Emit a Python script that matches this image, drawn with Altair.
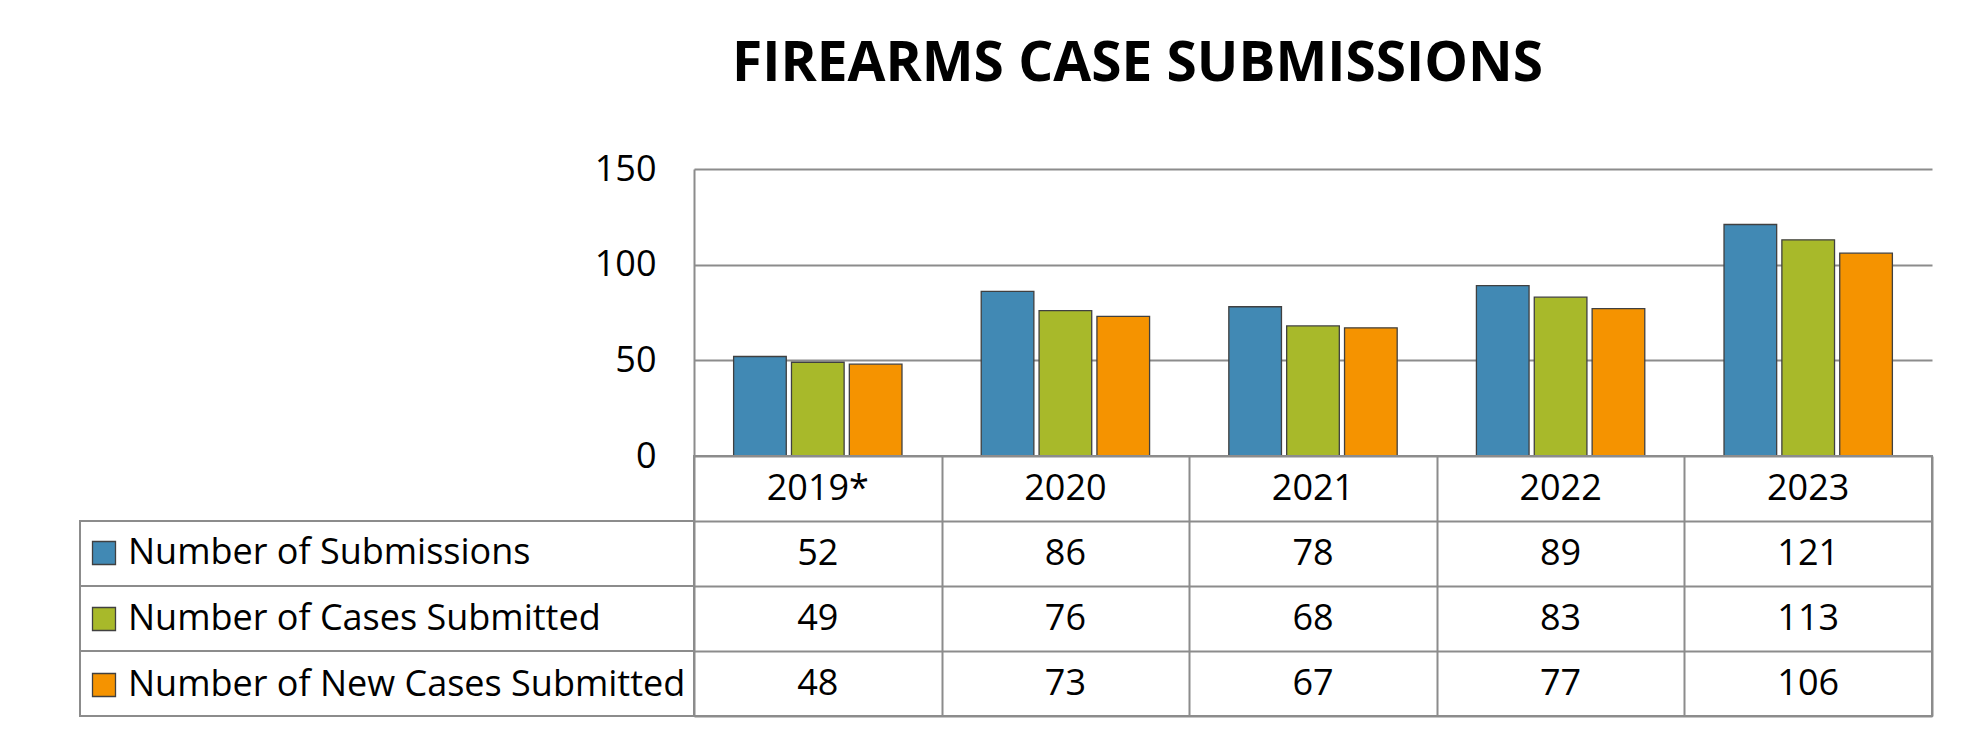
import altair as alt
import pandas as pd

# ---- data ----
years = ["2019*", "2020", "2021", "2022", "2023"]
series = ["Number of Submissions", "Number of Cases Submitted", "Number of New Cases Submitted"]
submissions = [52, 86, 78, 89, 121]
cases_submitted = [49, 76, 68, 83, 113]
new_cases_submitted = [48, 73, 67, 77, 106]
colors = ["#4189B4", "#A8B92A", "#F59300"]

values_by_series = [submissions, cases_submitted, new_cases_submitted]

bars_df = pd.DataFrame(
    [{"year": y, "series": s, "value": v}
     for s, vals in zip(series, values_by_series)
     for y, v in zip(years, vals)]
)

header_key = "Year"
rows = [header_key] + series
table_records = [{"year": y, "row": header_key, "text": y} for y in years]
for s, vals in zip(series, values_by_series):
    for y, v in zip(years, vals):
        table_records.append({"year": y, "row": s, "text": str(v)})
table_df = pd.DataFrame(table_records)
label_cells_df = pd.DataFrame({"row": series})

FONT = "Open Sans"
LINE = "#8C8C8C"
LW = 2
FS = 36

plot_w = 1238
plot_h = 287
table_h = 260
label_col = 614

bars = alt.Chart(bars_df).mark_bar(stroke="#404040", strokeWidth=1.3).encode(
    x=alt.X("year:N", sort=years, axis=None,
            scale=alt.Scale(paddingInner=0.32, paddingOuter=0.16)),
    xOffset=alt.XOffset("series:N", sort=series,
                        scale=alt.Scale(paddingInner=0.09, paddingOuter=0)),
    y=alt.Y("value:Q",
            scale=alt.Scale(domain=[0, 150], nice=False),
            axis=alt.Axis(values=[0, 50, 100, 150], title=None, ticks=False,
                          labelPadding=38, labelFontSize=FS, labelFont=FONT,
                          labelColor="black", grid=True, gridColor=LINE,
                          gridWidth=LW, domainColor=LINE, domainWidth=LW)),
    fill=alt.Fill("series:N", sort=series,
                  scale=alt.Scale(domain=series, range=colors),
                  legend=alt.Legend(orient="none", legendX=-608, legendY=366,
                                    title=None, symbolType="square",
                                    symbolSize=529, symbolStrokeColor="#404040",
                                    symbolStrokeWidth=1.3, labelFontSize=FS,
                                    labelFont=FONT, labelColor="black",
                                    labelOffset=6, rowPadding=30,
                                    labelLimit=700)),
).properties(width=plot_w, height=plot_h, view=alt.ViewBackground(stroke=None))

x_table = alt.X("year:N", sort=years,
                scale=alt.Scale(paddingInner=0, paddingOuter=0),
                axis=alt.Axis(title=None, labels=False, ticks=False, domain=False,
                              grid=True, tickBand="extent", gridColor=LINE,
                              gridWidth=LW))
y_table = alt.Y("row:N", sort=rows,
                scale=alt.Scale(domain=rows, paddingInner=0, paddingOuter=0),
                axis=alt.Axis(title=None, labels=False, domain=False, ticks=False,
                              values=series, tickBand="extent",
                              grid=True, gridColor=LINE, gridWidth=LW))

cells = alt.Chart(table_df).mark_text(fontSize=FS, font=FONT, color="black",
                                      baseline="middle").encode(
    x=x_table, y=y_table, text="text:N",
)

label_cells = alt.Chart(label_cells_df).mark_rect(
    fillOpacity=0, stroke=LINE, strokeWidth=LW
).encode(
    x=alt.value(-label_col), x2=alt.value(0), y=y_table,
)

table = alt.layer(label_cells, cells).properties(
    width=plot_w, height=table_h,
    view=alt.ViewBackground(stroke=LINE, strokeWidth=LW))

chart = alt.vconcat(bars, table, spacing=0, bounds="flush").resolve_scale(
    x="independent", y="independent"
).properties(
    title=alt.TitleParams("FIREARMS CASE SUBMISSIONS", font=FONT,
                          fontSize=55, fontWeight="bold", color="black",
                          anchor="middle", frame="bounds", dx=132, offset=58),
    padding={"left": 70, "top": 29, "right": 5, "bottom": 5},
).configure_view(strokeWidth=LW)

chart.save("out.html", embed_options={"renderer": "svg", "actions": False})
